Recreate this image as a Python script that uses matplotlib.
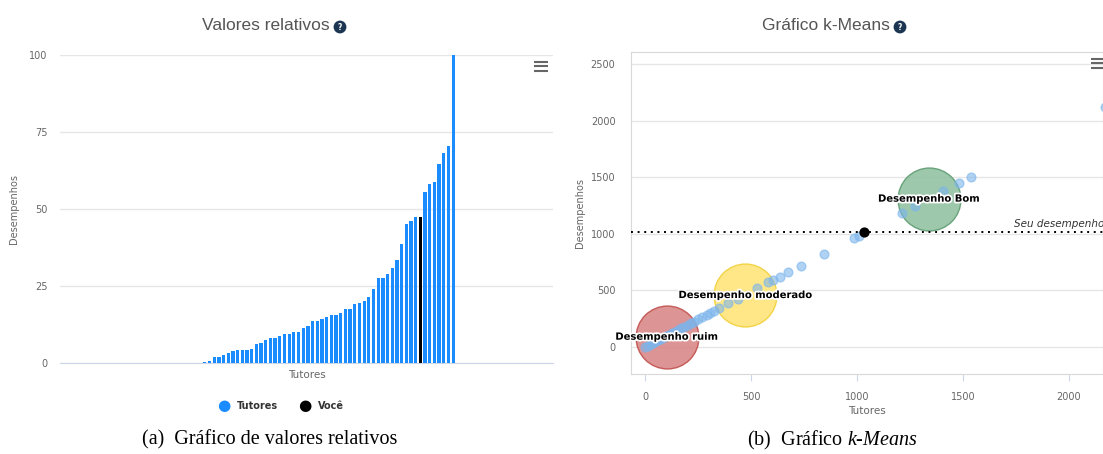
import numpy as np
import matplotlib.pyplot as plt
import matplotlib.patheffects as pe
from matplotlib.lines import Line2D

plt.rcParams['mathtext.fontset'] = 'custom'
plt.rcParams['mathtext.rm'] = 'Liberation Serif'
plt.rcParams['mathtext.it'] = 'Liberation Serif:italic'

# --- dados: valores relativos (barras) ---
desempenho_rel = [0.2, 0.5, 1.7, 1.7, 2.5, 3.0, 3.7, 4.0, 4.0, 4.0, 4.3, 6.0, 6.5, 7.4,
                  8.0, 8.0, 8.7, 9.3, 9.3, 10.0, 10.0, 11.3, 11.9, 13.4, 13.4, 14.1, 14.7,
                  15.6, 15.6, 16.3, 17.6, 17.6, 19.1, 19.3, 19.9, 21.2, 23.8, 27.5, 27.5,
                  28.8, 30.7, 33.4, 38.5, 45.1, 45.9, 47.2, 47.2, 55.5, 58.1, 58.7, 64.6,
                  68.0, 70.4, 100.0]
idx_voce = 46
yticks_rel = [0, 25, 50, 75, 100]

# --- dados: k-means ---
tutores_x = [0, 12, 25, 38, 50, 62, 75, 88, 100, 112, 125, 140, 155, 170, 185, 200, 215,
             230, 250, 270, 290, 305, 325, 350, 392, 439, 526, 580, 601, 636, 674, 735,
             843, 987, 1010, 1213, 1273, 1407, 1480, 1538, 2170]
tutores_y = [0, 10, 22, 35, 47, 58, 70, 83, 95, 107, 120, 133, 148, 163, 178, 192, 207,
             222, 242, 261, 280, 295, 315, 340, 384, 422, 517, 570, 590, 617, 658, 717,
             823, 962, 982, 1186, 1245, 1378, 1449, 1504, 2122]
voce_x, voce_y = 1032, 1012
clusters_x = [101, 472, 1338]
clusters_y = [88, 457, 1310]
clusters_nome = ['Desempenho ruim', 'Desempenho moderado', 'Desempenho Bom']
clusters_cor = [('#d98888', '#c0504d'), ('#ffe57a', '#f2d03b'), ('#93c2a2', '#5e9c72')]
ticks_km = [0, 500, 1000, 1500, 2000, 2500]

azul = '#1a8cff'
cinza_txt = '#666666'
grid_c = '#e6e6e6'
eixo_c = '#ccd6eb'

fig = plt.figure(figsize=(11.03, 4.54), dpi=100)
W, H = 1103, 454

def titulo(x_fim, txt):
    # texto termina em x_fim, icone "?" logo depois
    fig.text(x_fim / W, 1 - 26 / H, txt, ha='right', va='center', fontsize=12.5,
             color='#555555', family='Liberation Sans')
    fig.text((x_fim + 10) / W, 1 - 27 / H, '?', ha='center', va='center', fontsize=5.5,
             color='white', weight='bold',
             bbox=dict(boxstyle='circle,pad=0.25', fc='#1c3552', ec='none'))

def menu(x, y):
    for dy in (-4.5, 0, 4.5):
        fig.add_artist(Line2D([(x - 7) / W, (x + 7) / W], [1 - (y + dy) / H] * 2,
                              color='#666666', lw=1.5, solid_capstyle='butt'))

# ---------------- (a) valores relativos ----------------
ax1 = fig.add_axes([60 / W, 1 - 362.7 / H, 493 / W, 307.7 / H])
pos = np.arange(len(desempenho_rel))
cores = [azul] * len(desempenho_rel)
cores[idx_voce] = 'black'
ax1.bar(pos, desempenho_rel, width=0.7, color=cores, zorder=3)
ax1.set_xlim(-30.9, 74.3)
ax1.set_ylim(0, 100)
ax1.set_yticks(yticks_rel)
ax1.grid(axis='y', color=grid_c, lw=1)
for s in ['top', 'right', 'left']:
    ax1.spines[s].set_visible(False)
ax1.spines['bottom'].set_color(eixo_c)
ax1.set_xticks([])
ax1.tick_params(axis='y', length=0, labelsize=7, labelcolor=cinza_txt, pad=9)
ax1.set_ylabel('Desempenhos', fontsize=7, color=cinza_txt, labelpad=7)
ax1.set_xlabel('Tutores', fontsize=7.5, color=cinza_txt, labelpad=5)

titulo(330, 'Valores relativos')
menu(541, 66)

# legenda
fig.text(224 / W, 1 - 406 / H, '\u25CF', color=azul, fontsize=11, ha='center', va='center')
fig.text(237 / W, 1 - 406 / H, 'Tutores', fontsize=7, weight='bold', color='#333333', va='center')
fig.text(305 / W, 1 - 406 / H, '\u25CF', color='black', fontsize=11, ha='center', va='center')
fig.text(318 / W, 1 - 406 / H, 'Você', fontsize=7, weight='bold', color='#333333', va='center')

# ---------------- (b) k-means ----------------
ax2 = fig.add_axes([630.7 / W, 1 - 374 / H, 472.3 / W, 322.3 / H])
ax2.set_xlim(-69, 2161)
ax2.set_ylim(-242, 2611)
ax2.set_yticks(ticks_km)
ax2.set_xticks(ticks_km[:-1])
ax2.grid(axis='y', color=grid_c, lw=1, zorder=0)
for s in ax2.spines.values():
    s.set_color('#d9d9d9')
ax2.tick_params(axis='y', length=0, labelsize=7, labelcolor=cinza_txt, pad=11)
ax2.tick_params(axis='x', length=5, color=eixo_c, labelsize=7, labelcolor=cinza_txt, pad=8)
ax2.set_ylabel('Desempenhos', fontsize=7, color=cinza_txt, labelpad=4)
ax2.set_xlabel('Tutores', fontsize=7.5, color=cinza_txt, labelpad=3)

for (cx, cy, (fc, ec)) in zip(clusters_x, clusters_y, clusters_cor):
    ax2.scatter(cx, cy, s=2050, color=fc, edgecolors=ec, linewidths=1, alpha=0.9, zorder=2)
ax2.scatter(tutores_x, tutores_y, s=40, color='#7cb5ec', alpha=0.6,
            edgecolors='#7cb5ec', linewidths=1, zorder=3)
ax2.axhline(voce_y, color='black', ls=(0, (1, 2.4)), lw=1.4, zorder=4)
ax2.scatter([voce_x], [voce_y], s=40, color='black', zorder=5)
ax2.text(1741, voce_y + 30, 'Seu desempenho', fontsize=7.5, style='italic',
         color='#333333', va='bottom', ha='left', zorder=6, clip_on=True)
for (cx, cy, nome) in zip(clusters_x, clusters_y, clusters_nome):
    ax2.text(cx, cy, nome, fontsize=7.2, weight='bold', color='black', ha='center',
             va='center', zorder=6,
             path_effects=[pe.withStroke(linewidth=2.5, foreground='white')])

titulo(890, 'Gráfico k-Means')
menu(1098, 63)

# legendas das subfiguras
serif = ['Liberation Serif', 'DejaVu Serif']
fig.text(270 / W, 1 - 440 / H, '(a)  Gráfico de valores relativos', fontsize=14.5,
         family=serif, ha='center', va='center')
fig.text(832 / W, 1 - 440 / H, '(b)  Gráfico $\\it{k}$-$\\it{Means}$', fontsize=14.5,
         family=serif, ha='center', va='center')

fig.savefig('out.png', dpi=100)
